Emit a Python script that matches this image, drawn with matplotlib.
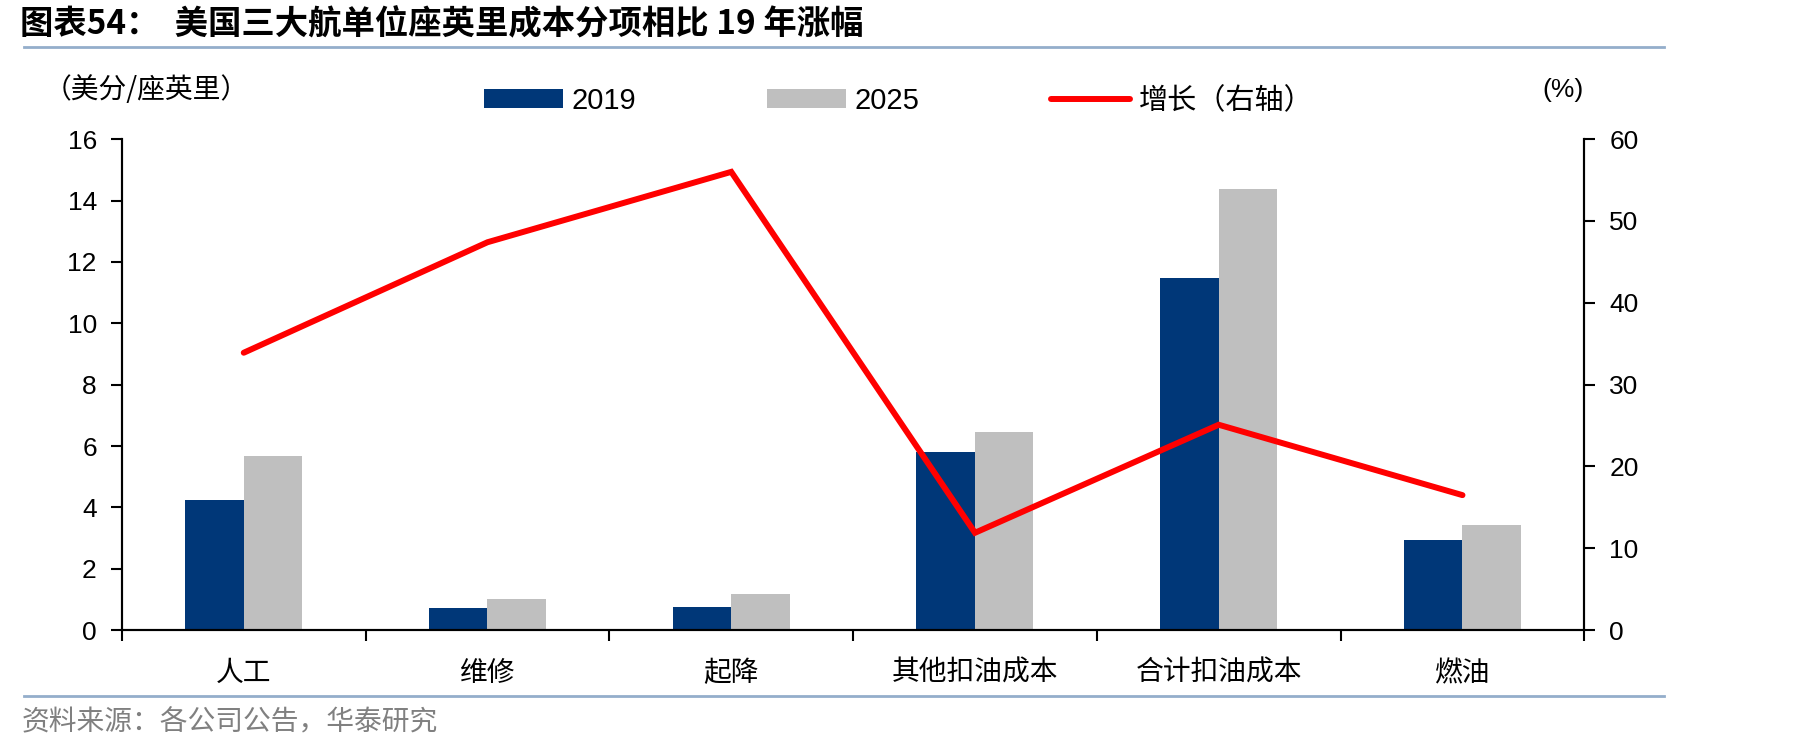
import matplotlib
matplotlib.use("Agg")
import matplotlib.pyplot as plt
import numpy as np
from matplotlib.lines import Line2D

plt.rcParams['font.family'] = ['Liberation Sans', 'Noto Sans CJK SC', 'DejaVu Sans']

categories = ['人工', '维修', '起降', '其他扣油成本', '合计扣油成本', '燃油']
cost_2019 = [4.24, 0.72, 0.76, 5.79, 11.46, 2.95]
cost_2025 = [5.67, 1.02, 1.17, 6.47, 14.37, 3.44]
growth = [33.9, 47.4, 56.0, 11.9, 25.1, 16.5]
left_ticks = [0, 2, 4, 6, 8, 10, 12, 14, 16]
right_ticks = [0, 10, 20, 30, 40, 50, 60]

navy = '#003778'
gray = '#BFBFBF'
red = '#FF0000'
cjk = ['Noto Sans CJK SC', 'DejaVu Sans']

fig = plt.figure(figsize=(18.19, 7.52), dpi=100)
ax = fig.add_axes([0.067, 0.162, 0.804, 0.653])
ax2 = ax.twinx()

x = np.arange(len(categories))
w = 0.24
ax.bar(x - w / 2, cost_2019, width=w, color=navy, label='2019', zorder=2)
ax.bar(x + w / 2, cost_2025, width=w, color=gray, label='2025', zorder=2)
ax2.plot(x, growth, color=red, lw=4.3, solid_capstyle='round', solid_joinstyle='miter',
         label='增长（右轴）', zorder=3)

ax.set_xlim(-0.5, len(categories) - 0.5)
ax.set_ylim(0, 16)
ax2.set_ylim(0, 60)
ax.set_yticks(left_ticks)
ax2.set_yticks(right_ticks)

ax.set_xticks(np.arange(-0.5, len(categories)), labels=[])
ax.set_xticks(x, minor=True)
ax.set_xticklabels(categories, minor=True, fontfamily=cjk, fontsize=20)
ax.tick_params(axis='x', which='minor', length=0, pad=20)
ax.tick_params(axis='x', which='major', length=8, width=1.5, direction='out')
ax.tick_params(axis='y', length=8, width=1.5, direction='out', labelsize=19, pad=10)
ax2.tick_params(axis='y', length=8, width=1.5, direction='out', labelsize=19, pad=10)

for a in (ax, ax2):
    a.spines['top'].set_visible(False)
    for s in ('left', 'right', 'bottom'):
        a.spines[s].set_linewidth(1.5)
        a.spines[s].set_color('black')

# legend
h1, l1 = ax.get_legend_handles_labels()
h2, l2 = ax2.get_legend_handles_labels()
leg = fig.legend(h1 + h2, l1 + l2, loc='center', bbox_to_anchor=(0.494, 0.866), ncol=3,
                 frameon=False, handlelength=2.7, handleheight=0.6,
                 handletextpad=0.3, columnspacing=4.5,
                 prop={'family': ['Liberation Sans', 'Noto Sans CJK SC'], 'size': 21})

# axis unit labels
fig.text(0.024, 0.88, '（美分/座英里）', fontfamily=cjk, fontsize=20, ha='left', va='center')
fig.text(0.859, 0.88, '(%)', fontsize=19, ha='center', va='center')

# title
fig.text(0.011, 0.967, '图表54：  美国三大航单位座英里成本分项相比 19 年涨幅', fontfamily=cjk,
         fontsize=24, fontweight='bold', ha='left', va='center')
fig.add_artist(Line2D([0.013, 0.915], [0.938, 0.938], transform=fig.transFigure,
                      color='#94AECB', lw=2))
fig.add_artist(Line2D([0.013, 0.915], [0.075, 0.075], transform=fig.transFigure,
                      color='#94AECB', lw=2))
fig.text(0.012, 0.04, '资料来源：各公司公告，华泰研究', fontfamily=cjk, fontsize=20,
         color='#808080', ha='left', va='center')

fig.savefig('out.png', dpi=100)
